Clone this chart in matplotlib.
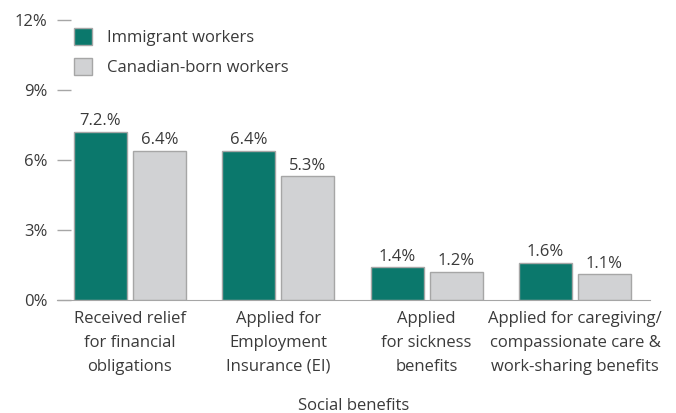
import numpy as np
import matplotlib.pyplot as plt

# Datos
categorias = ["Received relief\nfor financial\nobligations",
              "Applied for\nEmployment\nInsurance (EI)",
              "Applied\nfor sickness\nbenefits",
              "Applied for caregiving/\ncompassionate care &\nwork-sharing benefits"]
inmigrantes = [7.2, 6.4, 1.4, 1.6]
canadienses = [6.4, 5.3, 1.2, 1.1]
etiquetas_inm = ["7.2.%", "6.4%", "1.4%", "1.6%"]
etiquetas_can = ["6.4%", "5.3%", "1.2%", "1.1%"]
yticks = [0, 3, 6, 9, 12]

plt.rcParams['font.family'] = ['Open Sans', 'DejaVu Sans']
texto = '#3a3a3a'
teal = '#0b786c'
gris = '#d1d2d4'
borde = '#a6a6a6'
fs = 12

fig = plt.figure(figsize=(6.76, 4.13), dpi=100)
ax = fig.add_axes([57/676, 113/413, (650-57)/676, 280/413])

x = np.arange(len(categorias))
ancho = 0.357
desp = 0.199
b1 = ax.bar(x - desp, inmigrantes, ancho, color=teal, edgecolor=borde, linewidth=1, label='Immigrant workers')
b2 = ax.bar(x + desp, canadienses, ancho, color=gris, edgecolor=borde, linewidth=1, label='Canadian-born workers')

for rect, t in zip(b1, etiquetas_inm):
    ax.annotate(t, (rect.get_x() + rect.get_width()/2, rect.get_height()), xytext=(0, 2),
                textcoords='offset points', ha='center', va='bottom', fontsize=fs, color=texto)
for rect, t in zip(b2, etiquetas_can):
    ax.annotate(t, (rect.get_x() + rect.get_width()/2, rect.get_height()), xytext=(0, 2),
                textcoords='offset points', ha='center', va='bottom', fontsize=fs, color=texto)

ax.set_xlim(-0.492, 3.506)
ax.set_ylim(0, 12)
ax.set_yticks(yticks)
ax.set_yticklabels([f'{v}%' for v in yticks], fontsize=fs, color=texto)
ax.tick_params(axis='y', direction='in', length=10, color=borde, width=1, pad=7)
ax.set_xticks(x)
ax.set_xticklabels(categorias, fontsize=fs, color=texto, linespacing=1.65)
ax.tick_params(axis='x', length=0, pad=8)
ax.set_xlabel('Social benefits', fontsize=fs, color=texto, labelpad=17)

for s in ['top', 'right', 'left']:
    ax.spines[s].set_visible(False)
ax.spines['bottom'].set_color(borde)

ax.legend(loc='upper left', bbox_to_anchor=(0.003, 1.025), frameon=False, fontsize=fs,
          handlelength=1.1, handleheight=1.2, handletextpad=0.9, labelspacing=0.7,
          labelcolor=texto)

plt.savefig('out.png', dpi=100)
